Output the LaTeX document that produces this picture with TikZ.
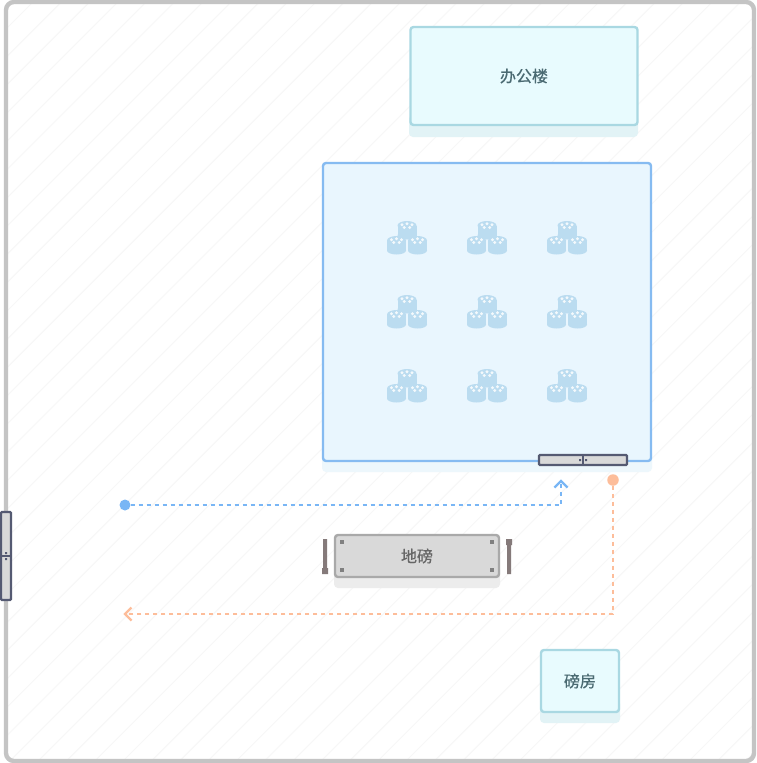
\documentclass[tikz,border=0pt]{standalone}
\usepackage{fontspec}
\newfontfamily\cjk[FakeBold=0.7]{Noto Sans CJK SC}
\definecolor{framec}{HTML}{C4C4C4}
\definecolor{hatchc}{HTML}{F7F7F7}
\definecolor{tealc}{HTML}{A9D8E2}
\definecolor{tealf}{HTML}{E8FBFE}
\definecolor{teals}{HTML}{E2F3F6}
\definecolor{tealt}{HTML}{4A6A72}
\definecolor{bluec}{HTML}{86BBF1}
\definecolor{bluef}{HTML}{E9F6FE}
\definecolor{blues}{HTML}{EDF7FC}
\definecolor{cyl}{HTML}{BBDCF0}
\definecolor{gatec}{HTML}{555A72}
\definecolor{grayf}{HTML}{D9D9D9}
\definecolor{grayc}{HTML}{A9A9A9}
\definecolor{grays}{HTML}{ECECEC}
\definecolor{grayt}{HTML}{666666}
\definecolor{bolt}{HTML}{808080}
\definecolor{barc}{HTML}{857A7A}
\definecolor{flowb}{HTML}{79B6F5}
\definecolor{flowo}{HTML}{FDBD9A}
\tikzset{
  x=1pt,y=-1pt,
  every node/.style={inner sep=0pt,outer sep=0pt},
  boxnode/.style={rectangle,rounded corners=3pt,line width=2.4pt,anchor=north west},
  tealbox/.style={boxnode,draw=tealc,fill=tealf,text=tealt,font=\cjk\fontsize{16}{16}\selectfont},
  shade box/.style={fill=#1,rounded corners=4pt},
  gatebox/.style={draw=gatec,fill=grayf,line width=2.4pt,rounded corners=1pt},
  flowblue/.style={draw=flowb,line width=2pt,dash pattern=on 4pt off 4pt},
  floworange/.style={draw=flowo,line width=2pt,dash pattern=on 4pt off 4pt},
  chevb/.style={draw=flowb,line width=2.4pt},
  chevo/.style={draw=flowo,line width=2.4pt},
}
\newcommand{\cylat}[2]{%
  \fill[cyl] ({#1-9.5},{#2+4}) rectangle ({#1+9.5},{#2+14});
  \fill[cyl] (#1,{#2+4}) circle[x radius=9.5pt,y radius=4.5pt];
  \fill[cyl] (#1,{#2+14}) circle[x radius=9.5pt,y radius=4pt];
  \foreach \dx/\dy in {-5/3.2,0/2.2,5/3.2,-2.7/6,2.7/6} {\fill[white,opacity=.85] ({#1+\dx},{#2+\dy}) circle[radius=1.6pt];}
}
\newcommand{\stackat}[2]{%
  \cylat{#1}{#2-18}
  \cylat{#1-10.5}{#2-3}
  \cylat{#1+10.5}{#2-3}
}
\begin{document}
\begin{tikzpicture}
\useasboundingbox (0,0) rectangle (756,763);
\fill[white] (0,0) rectangle (756,763);
\begin{scope}
\clip (6,2) rectangle (754,761);
\foreach \k in {0,...,53} {\draw[hatchc,line width=1pt] ({35+28.3*\k},0) -- (0,{35+28.3*\k});}
\end{scope}
\draw[framec,line width=4.4pt,rounded corners=8pt] (6,2) rectangle (754,761);

% office
\fill[shade box=teals] (409,115) rectangle (638,137);
\node[tealbox,minimum width=227pt,minimum height=98pt] (office) at (410.5,27) {办公楼};

% warehouse
\fill[shade box=blues] (322,450) rectangle (652,472);
\node[boxnode,draw=bluec,fill=bluef,minimum width=328pt,minimum height=298pt] (store) at (323,163) {};
\foreach \cx in {407,487,567} {\foreach \cy in {239.5,313.5,387.5} {\stackat{\cx}{\cy}}}

% gates
\node[gatebox,minimum width=88pt,minimum height=10pt,anchor=center] (gateA) at (583,460) {};
\draw[gatec,line width=1.2pt] (gateA.north) -- (gateA.south);
\fill[gatec] (579,459) rectangle (581,461) (585,459) rectangle (587,461);
\node[gatebox,minimum width=10pt,minimum height=88pt,anchor=center] (gateB) at (6,556) {};
\draw[gatec,line width=1.2pt] (gateB.west) -- (gateB.east);
\fill[gatec] (5,552) rectangle (7,554) (5,558) rectangle (7,560);

% scale
\fill[shade box=grays] (334,566) rectangle (500,588);
\node[boxnode,draw=grayc,fill=grayf,text=grayt,font=\cjk\fontsize{16}{16}\selectfont,minimum width=164pt,minimum height=42pt] (scale) at (335,535) {地磅};
\foreach \bx/\by in {342/542,492/542,342/570,492/570} {\fill[bolt] ({\bx-2},{\by-2}) rectangle ({\bx+2},{\by+2});}
\fill[barc] (323,539) rectangle (327,574) (322,568) rectangle (328,574);
\fill[barc] (507,539) rectangle (511,574) (506,539) rectangle (512,545);

% weigh room
\fill[shade box=teals] (540,700) rectangle (620,723);
\node[tealbox,minimum width=78pt,minimum height=62pt] (room) at (541,650) {磅房};

% flows
\node[circle,fill=flowb,minimum size=11pt] (startB) at (125,505) {};
\coordinate (cornerB) at (561,505);
\coordinate (endB) at (561,481);
\draw[flowblue] (startB) -- (cornerB) -- (endB);
\draw[chevb] (554.5,487.5) -- (endB) -- (567.5,487.5);

\node[circle,fill=flowo,minimum size=11.5pt] (startO) at (613,480) {};
\coordinate (cornerO) at (613,614);
\coordinate (endO) at (125,614);
\draw[floworange] (startO) -- (cornerO) -- (endO);
\draw[chevo] (131.5,607.5) -- (endO) -- (131.5,620.5);
\end{tikzpicture}
\end{document}
